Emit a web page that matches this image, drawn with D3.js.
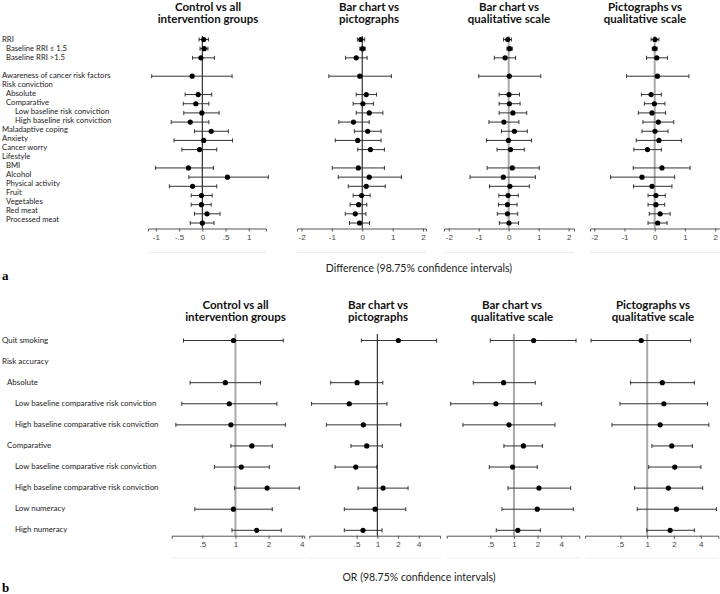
<!DOCTYPE html>
<html>
<head>
<meta charset="utf-8">
<script src="https://cdn.jsdelivr.net/npm/d3@7"></script>
<style>
  body { margin: 0; background: #fff; }
  svg { display: block; }
</style>
</head>
<body>
<svg width="720" height="594"></svg>
<script>
// ---- data ----
const comparisonTitles = [
  ['Control vs all', 'intervention groups'],
  ['Bar chart vs', 'pictographs'],
  ['Bar chart vs', 'qualitative scale'],
  ['Pictographs vs', 'qualitative scale']
];

const diffLabels = ['RRI', 'Baseline RRI \u2264 1.5', 'Baseline RRI >1.5', '',
  'Awareness of cancer risk factors', 'Risk conviction', 'Absolute', 'Comparative',
  'Low baseline risk conviction', 'High baseline risk conviction', 'Maladaptive coping',
  'Anxiety', 'Cancer worry', 'Lifestyle', 'BMI', 'Alcohol', 'Physical activity',
  'Fruit', 'Vegetables', 'Red meat', 'Processed meat'];
const diffLevels = [0, 1, 1, 0, 0, 0, 1, 1, 2, 2, 0, 0, 0, 0, 1, 1, 1, 1, 1, 1, 1];

// [estimate, lower, upper]
const diffControl = [[0.03, -0.07, 0.13], [0.04, -0.05, 0.12], [-0.03, -0.21, 0.26], null,
  [-0.22, -1.09, 0.64], null, [-0.09, -0.37, 0.2], [-0.14, -0.41, 0.14], [-0.01, -0.4, 0.36],
  [-0.26, -0.67, 0.14], [0.19, -0.17, 0.56], [0.03, -0.61, 0.65], [-0.06, -0.44, 0.31], null,
  [-0.3, -1.01, 0.24], [0.54, -0.29, 1.42], [-0.21, -0.71, 0.31], [-0.02, -0.24, 0.21],
  [-0.02, -0.24, 0.19], [0.1, -0.17, 0.38], [0, -0.26, 0.25]];
const diffBarPicto = [[-0.05, -0.16, 0.08], [0.01, -0.08, 0.1], [-0.2, -0.55, 0.16], null,
  [-0.08, -1.1, 0.96], null, [0.13, -0.2, 0.47], [0.02, -0.3, 0.37], [0.23, -0.2, 0.68],
  [-0.29, -0.77, 0.23], [0.18, -0.26, 0.62], [-0.15, -0.89, 0.62], [0.27, -0.15, 0.73], null,
  [-0.13, -0.99, 0.73], [0.23, -0.79, 1.29], [0.13, -0.46, 0.76], [-0.02, -0.3, 0.26],
  [-0.12, -0.4, 0.15], [-0.23, -0.56, 0.12], [-0.09, -0.42, 0.24]];
const diffBarQual = [[-0.03, -0.17, 0.09], [0.03, -0.06, 0.12], [-0.12, -0.48, 0.23], null,
  [0.02, -1.0, 1.07], null, [0.01, -0.32, 0.36], [0.02, -0.32, 0.38], [0.14, -0.32, 0.6],
  [-0.16, -0.66, 0.34], [0.19, -0.24, 0.62], [-0.01, -0.74, 0.76], [0.06, -0.39, 0.52], null,
  [0.12, -0.72, 1.02], [-0.18, -1.29, 0.89], [0.04, -0.64, 0.69], [-0.02, -0.33, 0.32],
  [-0.04, -0.34, 0.28], [-0.04, -0.38, 0.3], [0.01, -0.31, 0.33]];
const diffPictoQual = [[0.01, -0.12, 0.14], [0, -0.08, 0.08], [0.07, -0.27, 0.42], null,
  [0.09, -0.93, 1.13], null, [-0.12, -0.44, 0.22], [-0.01, -0.34, 0.34], [-0.09, -0.54, 0.36],
  [0.12, -0.39, 0.63], [0.01, -0.42, 0.44], [0.14, -0.61, 0.88], [-0.24, -0.69, 0.22], null,
  [0.24, -0.71, 1.17], [-0.42, -1.46, 0.66], [-0.09, -0.7, 0.57], [0.04, -0.22, 0.35],
  [0.04, -0.22, 0.33], [0.18, -0.18, 0.51], [0.1, -0.22, 0.41]];

const orLabels = ['Quit smoking', 'Risk accuracy', 'Absolute',
  'Low baseline comparative risk conviction', 'High baseline comparative risk conviction',
  'Comparative', 'Low baseline comparative risk conviction',
  'High baseline comparative risk conviction', 'Low numeracy', 'High numeracy'];
const orLevels = [0, 0, 1, 2, 2, 1, 2, 2, 2, 2];

const orControl = [[0.96, 0.338, 2.72], null, [0.81, 0.388, 1.69], [0.88, 0.326, 2.38],
  [0.91, 0.288, 2.84], [1.41, 0.91, 2.16], [1.13, 0.645, 2.03], [1.94, 0.98, 3.8],
  [0.96, 0.428, 2.16], [1.56, 0.93, 2.61]];
const orBarPicto = [[2.02, 0.585, 7.3], null, [0.506, 0.209, 1.2], [0.39, 0.11, 1.38],
  [0.625, 0.181, 2.19], [0.7, 0.413, 1.18], [0.484, 0.242, 0.98], [1.21, 0.523, 2.8],
  [0.925, 0.33, 2.59], [0.618, 0.33, 1.17]];
const orBarQual = [[1.78, 0.5, 6.18], null, [0.738, 0.303, 1.87], [0.589, 0.156, 2.25],
  [0.864, 0.224, 3.33], [1.32, 0.745, 2.3], [0.96, 0.485, 1.98], [2.08, 0.84, 5.28],
  [1.98, 0.703, 5.71], [1.12, 0.595, 2.17]];
const orPictoQual = [[0.857, 0.234, 3.08], null, [1.48, 0.651, 3.39], [1.54, 0.494, 4.77],
  [1.4, 0.402, 4.94], [1.89, 1.13, 3.22], [2.04, 1.04, 4.02], [1.73, 0.721, 4.2],
  [2.13, 0.773, 6.02], [1.81, 0.99, 3.39]];

const diffTicksControl = [-1, -0.5, 0, 0.5, 1];
const diffTicks = [-2, -1, 0, 1, 2];
const orTicks = [0.5, 1, 2, 4];

// ---- drawing ----
const svg = d3.select('svg');
const labelFont = 'Lato, "Open Sans", sans-serif';
const tickFont = '"Liberation Sans", Arial, sans-serif';
const stataFormat = d => String(d).replace(/^(-?)0\./, '$1.');

const refStyle = {
  dark: { stroke: '#333', width: 1.2 },
  gray: { stroke: '#a9a9a9', width: 2 }
};

const drawPanel = (props) => {
  const { labels, levels, indent, rowRange, labelRange, titleY, refTop, axisY,
    frameY, columns, xLabel, xLabelY, letter, letterY } = props;

  const g = svg.append('g');
  const rowScale = d3.scaleLinear().domain([0, labels.length - 1]).range(rowRange);
  const labelScale = d3.scaleLinear().domain([0, labels.length - 1]).range(labelRange);

  // row labels
  g.append('g').selectAll('text').data(labels).enter().append('text')
    .attr('x', (d, i) => indent[levels[i]])
    .attr('y', (d, i) => labelScale(i))
    .attr('dy', '0.35em')
    .attr('font-family', labelFont)
    .attr('font-size', props.labelSize)
    .attr('fill', '#222')
    .text(d => d);

  columns.forEach(col => {
    const x = (col.log ? d3.scaleLog() : d3.scaleLinear())
      .domain(col.domain)
      .range([col.x0, col.x1]);
    const cg = g.append('g');

    // title, two lines
    col.title.forEach((t, i) => {
      cg.append('text')
        .attr('x', col.titleX)
        .attr('y', titleY + i * 12)
        .attr('text-anchor', 'middle')
        .attr('font-family', labelFont)
        .attr('font-weight', 'bold')
        .attr('font-size', 11.5)
        .attr('fill', '#111')
        .text(t);
    });

    // faint frame line
    cg.append('line')
      .attr('x1', col.x0).attr('x2', col.x1)
      .attr('y1', frameY).attr('y2', frameY)
      .attr('stroke', '#eee');

    // reference line
    const ref = col.log ? 1 : 0;
    cg.append('line')
      .attr('x1', x(ref)).attr('x2', x(ref))
      .attr('y1', refTop).attr('y2', axisY)
      .attr('stroke', refStyle[col.ref].stroke)
      .attr('stroke-width', refStyle[col.ref].width);

    // axis
    const axis = d3.axisBottom(x)
      .tickValues(col.ticks)
      .tickSize(3)
      .tickPadding(3)
      .tickFormat(stataFormat);
    const axisG = cg.append('g')
      .attr('transform', `translate(0,${axisY})`)
      .call(axis);
    axisG.select('.domain').attr('stroke', '#555');
    axisG.selectAll('.tick line').attr('stroke', '#555');
    axisG.selectAll('.tick text')
      .attr('font-family', tickFont)
      .attr('font-size', 8)
      .attr('fill', '#444');

    // confidence intervals
    const rows = col.values.map((v, i) => v ? { i, est: v[0], lo: v[1], hi: v[2] } : null)
      .filter(d => d);
    const ci = cg.append('g').selectAll('g').data(rows).enter().append('g')
      .attr('transform', d => `translate(0,${rowScale(d.i)})`);
    ci.append('line')
      .attr('x1', d => x(d.lo)).attr('x2', d => x(d.hi))
      .attr('stroke', '#333');
    ci.append('line')
      .attr('x1', d => x(d.lo)).attr('x2', d => x(d.lo))
      .attr('y1', -2).attr('y2', 2)
      .attr('stroke', '#333');
    ci.append('line')
      .attr('x1', d => x(d.hi)).attr('x2', d => x(d.hi))
      .attr('y1', -2).attr('y2', 2)
      .attr('stroke', '#333');
    ci.append('circle')
      .attr('cx', d => x(d.est))
      .attr('r', 2.6)
      .attr('fill', '#000');
  });

  // x title
  g.append('text')
    .attr('x', 419)
    .attr('y', xLabelY)
    .attr('text-anchor', 'middle')
    .attr('font-family', labelFont)
    .attr('font-size', 10.5)
    .attr('fill', '#222')
    .text(xLabel);

  // panel letter
  g.append('text')
    .attr('x', 2)
    .attr('y', letterY)
    .attr('font-family', '"Liberation Serif", serif')
    .attr('font-weight', 'bold')
    .attr('font-size', 13)
    .attr('fill', '#000')
    .text(letter);
};

drawPanel({
  labels: diffLabels,
  levels: diffLevels,
  indent: [2, 6, 15],
  labelSize: 7.7,
  rowRange: [39.5, 223],
  labelRange: [39, 219.5],
  titleY: 10.5,
  refTop: 36,
  axisY: 228.5,
  frameY: 252.5,
  xLabel: 'Difference (98.75% confidence intervals)',
  xLabelY: 272,
  letter: 'a',
  letterY: 280,
  columns: [
    { title: comparisonTitles[0], titleX: 208, values: diffControl, ticks: diffTicksControl,
      domain: [-1.17, 1.37], x0: 148, x1: 266, ref: 'dark' },
    { title: comparisonTitles[1], titleX: 369, values: diffBarPicto, ticks: diffTicks,
      domain: [-2.15, 2.1], x0: 297, x1: 426, ref: 'dark' },
    { title: comparisonTitles[2], titleX: 509, values: diffBarQual, ticks: diffTicks,
      domain: [-2.16, 2.18], x0: 444, x1: 574, ref: 'gray' },
    { title: comparisonTitles[3], titleX: 645, values: diffPictoQual, ticks: diffTicks,
      domain: [-2.14, 2.16], x0: 590, x1: 720, ref: 'gray' }
  ]
});

drawPanel({
  labels: orLabels,
  levels: orLevels,
  indent: [2, 7, 15],
  labelSize: 7.9,
  rowRange: [340.5, 530.3],
  labelRange: [340.5, 529],
  titleY: 309,
  refTop: 334,
  axisY: 535.7,
  frameY: 558,
  xLabel: 'OR (98.75% confidence intervals)',
  xLabelY: 581,
  letter: 'b',
  letterY: 592,
  columns: [
    { title: comparisonTitles[0], titleX: 235.5, values: orControl, ticks: orTicks, log: true,
      domain: [0.264, 4.22], x0: 171.7, x1: 304.3, ref: 'gray' },
    { title: comparisonTitles[1], titleX: 378, values: orBarPicto, ticks: orTicks, log: true,
      domain: [0.102, 8.17], x0: 309.3, x1: 440, ref: 'dark' },
    { title: comparisonTitles[2], titleX: 512, values: orBarQual, ticks: orTicks, log: true,
      domain: [0.139, 6.8], x0: 446.7, x1: 579.3, ref: 'gray' },
    { title: comparisonTitles[3], titleX: 653, values: orPictoQual, ticks: orTicks, log: true,
      domain: [0.2, 6.3], x0: 585, x1: 718.3, ref: 'gray' }
  ]
});
</script>
</body>
</html>
